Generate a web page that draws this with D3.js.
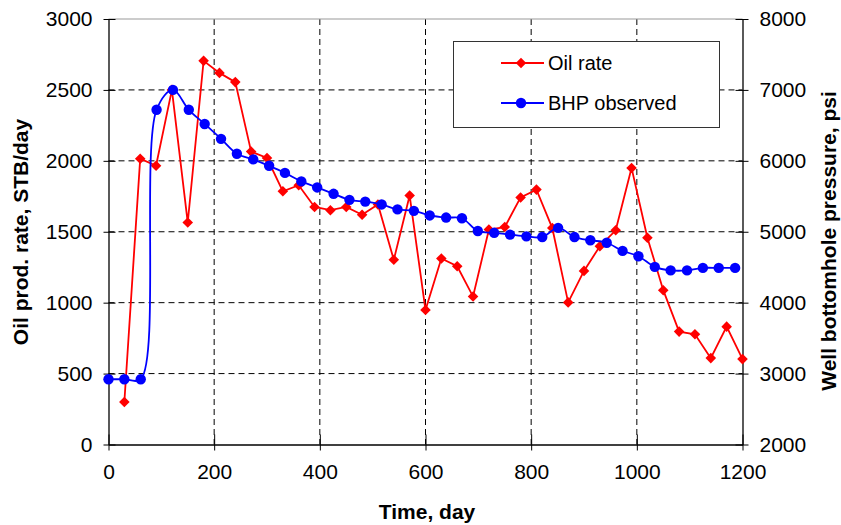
<!DOCTYPE html>
<html><head><meta charset="utf-8">
<script src="https://cdn.jsdelivr.net/npm/d3@7"></script>
<style>body{margin:0;background:#fff;} text{font-family:"Liberation Sans",Arial,sans-serif;}</style>
</head><body>
<svg id="chart" width="841" height="525"></svg>
<script>
const oilDays = [30,60,90,120,150,180,210,240,270,300,330,360,390,420,450,480,510,540,570,600,630,660,690,720,750,780,810,840,870,900,930,960,990,1020,1050,1080,1110,1140,1170,1200];
const oilRate = [300,2015,1965,2500,1565,2705,2620,2555,2065,2020,1785,1828,1675,1652,1675,1620,1692,1302,1755,948,1311,1257,1043,1515,1533,1742,1797,1526,1002,1224,1398,1510,1950,1458,1088,796,777,609,831,602];
const bhpDays = [0,30,61,91,122,152,182,213,243,274,304,334,365,395,426,456,486,517,547,578,608,639,669,699,730,760,791,821,851,882,912,943,973,1003,1034,1064,1095,1125,1155,1186];
const bhpObs = [2920,2920,2920,6720,7000,6720,6520,6310,6100,6020,5930,5830,5710,5625,5535,5450,5425,5385,5315,5295,5230,5200,5190,5010,4985,4960,4935,4925,5055,4925,4880,4845,4730,4655,4505,4455,4455,4490,4490,4490];
const xTicks = [0,200,400,600,800,1000,1200];
const yLeftTicks = [0,500,1000,1500,2000,2500,3000];
const yRightTicks = [2000,3000,4000,5000,6000,7000,8000];
const seriesNames = ["Oil rate","BHP observed"];
const seriesColors = ["#FF0000","#0000FF"];

const svg = d3.select("#chart");
const m = {l:108.5, r:98.5, t:19, b:80.5};
const W = 841, H = 525;
const x = d3.scaleLinear().domain([0,1200]).range([m.l, W-m.r]);
const yL = d3.scaleLinear().domain([0,3000]).range([H-m.b, m.t]);
const yR = d3.scaleLinear().domain([2000,8000]).range([H-m.b, m.t]);

// gridlines
const grid = svg.append("g");
grid.selectAll("line.h").data(yLeftTicks.slice(1,-1)).enter().append("line")
  .attr("x1", m.l).attr("x2", W-m.r).attr("y1", d=>yL(d)).attr("y2", d=>yL(d))
  .attr("stroke","#000").attr("stroke-width",1).attr("stroke-dasharray","6,4");
grid.selectAll("line.v").data(xTicks.slice(1,-1)).enter().append("line")
  .attr("y1", m.t).attr("y2", H-m.b).attr("x1", d=>x(d)).attr("x2", d=>x(d))
  .attr("stroke","#000").attr("stroke-width",1).attr("stroke-dasharray","6,4");
// top border
svg.append("line").attr("x1",m.l).attr("x2",W-m.r).attr("y1",m.t).attr("y2",m.t).attr("stroke","#999").attr("stroke-width",1);

// axes
function styleAxis(g){
  g.select(".domain").attr("stroke","#000").attr("stroke-width",1.3);
  g.selectAll(".tick line").attr("stroke","#000");
  g.selectAll(".tick text").attr("font-size","21px").attr("fill","#000").attr("font-family","Liberation Sans, Arial, sans-serif");
}
const gx = svg.append("g").attr("transform",`translate(0,${H-m.b})`)
  .call(d3.axisBottom(x).tickValues(xTicks).tickSize(6).tickSizeOuter(0).tickPadding(14).tickFormat(d3.format("d")));
styleAxis(gx);
gx.selectAll(".tick line").attr("y1",-10);
const gl = svg.append("g").attr("transform",`translate(${m.l},0)`)
  .call(d3.axisLeft(yL).tickValues(yLeftTicks).tickSize(5).tickSizeOuter(0).tickPadding(11).tickFormat(d3.format("d")));
styleAxis(gl);
gl.selectAll(".tick line").attr("x2",-5).attr("x1",7);
const gr = svg.append("g").attr("transform",`translate(${W-m.r},0)`)
  .call(d3.axisRight(yR).tickValues(yRightTicks).tickSize(6).tickSizeOuter(0).tickPadding(11).tickFormat(d3.format("d")));
styleAxis(gr);
gr.selectAll(".tick line").attr("x1",-7).attr("x2",6);

// axis titles
svg.append("text").attr("x", 427).attr("y", 519).attr("text-anchor","middle")
  .attr("font-size","21px").attr("font-weight","bold").text("Time, day");
svg.append("text").attr("transform",`translate(28,232) rotate(-90)`).attr("text-anchor","middle")
  .attr("font-size","21px").attr("font-weight","bold").text("Oil prod. rate, STB/day");
svg.append("text").attr("transform",`translate(836,241) rotate(-90)`).attr("text-anchor","middle")
  .attr("font-size","21px").attr("font-weight","bold").text("Well bottomhole pressure, psi");

// series
const oil = oilDays.map((d,i)=>({x:d,y:oilRate[i]}));
const bhp = bhpDays.map((d,i)=>({x:d,y:bhpObs[i]}));
const diamond = d3.symbol().type(d3.symbolSquare).size(56);

svg.append("path").datum(oil)
  .attr("d", d3.line().x(d=>x(d.x)).y(d=>yL(d.y)))
  .attr("fill","none").attr("stroke",seriesColors[0]).attr("stroke-width",1.8);
svg.selectAll("path.oilpt").data(oil).enter().append("path")
  .attr("d", diamond).attr("transform", d=>`translate(${x(d.x)},${yL(d.y)}) rotate(45)`)
  .attr("fill",seriesColors[0]);

svg.append("path").datum(bhp)
  .attr("d", d3.line().curve(d3.curveCatmullRom.alpha(0.5)).x(d=>x(d.x)).y(d=>yR(d.y)))
  .attr("fill","none").attr("stroke",seriesColors[1]).attr("stroke-width",1.8);
svg.selectAll("circle.bhppt").data(bhp).enter().append("circle")
  .attr("cx", d=>x(d.x)).attr("cy", d=>yR(d.y)).attr("r",5.2)
  .attr("fill",seriesColors[1]);

// legend
const lg = svg.append("g");
lg.append("rect").attr("x",453.5).attr("y",41.5).attr("width",266).attr("height",86)
  .attr("fill","#fff").attr("stroke","#333").attr("stroke-width",1);
const rows = [63,103];
seriesNames.forEach((name,i)=>{
  lg.append("line").attr("x1",501).attr("x2",544).attr("y1",rows[i]).attr("y2",rows[i])
    .attr("stroke",seriesColors[i]).attr("stroke-width",1.8);
  if(i===0){
    lg.append("path").attr("d",diamond).attr("transform",`translate(521,${rows[i]}) rotate(45)`).attr("fill",seriesColors[i]);
  } else {
    lg.append("circle").attr("cx",521).attr("cy",rows[i]).attr("r",5.2).attr("fill",seriesColors[i]);
  }
  lg.append("text").attr("x",548).attr("y",rows[i]).attr("dy","0.35em")
    .attr("font-size","20px").text(name);
});
</script>
</body></html>
